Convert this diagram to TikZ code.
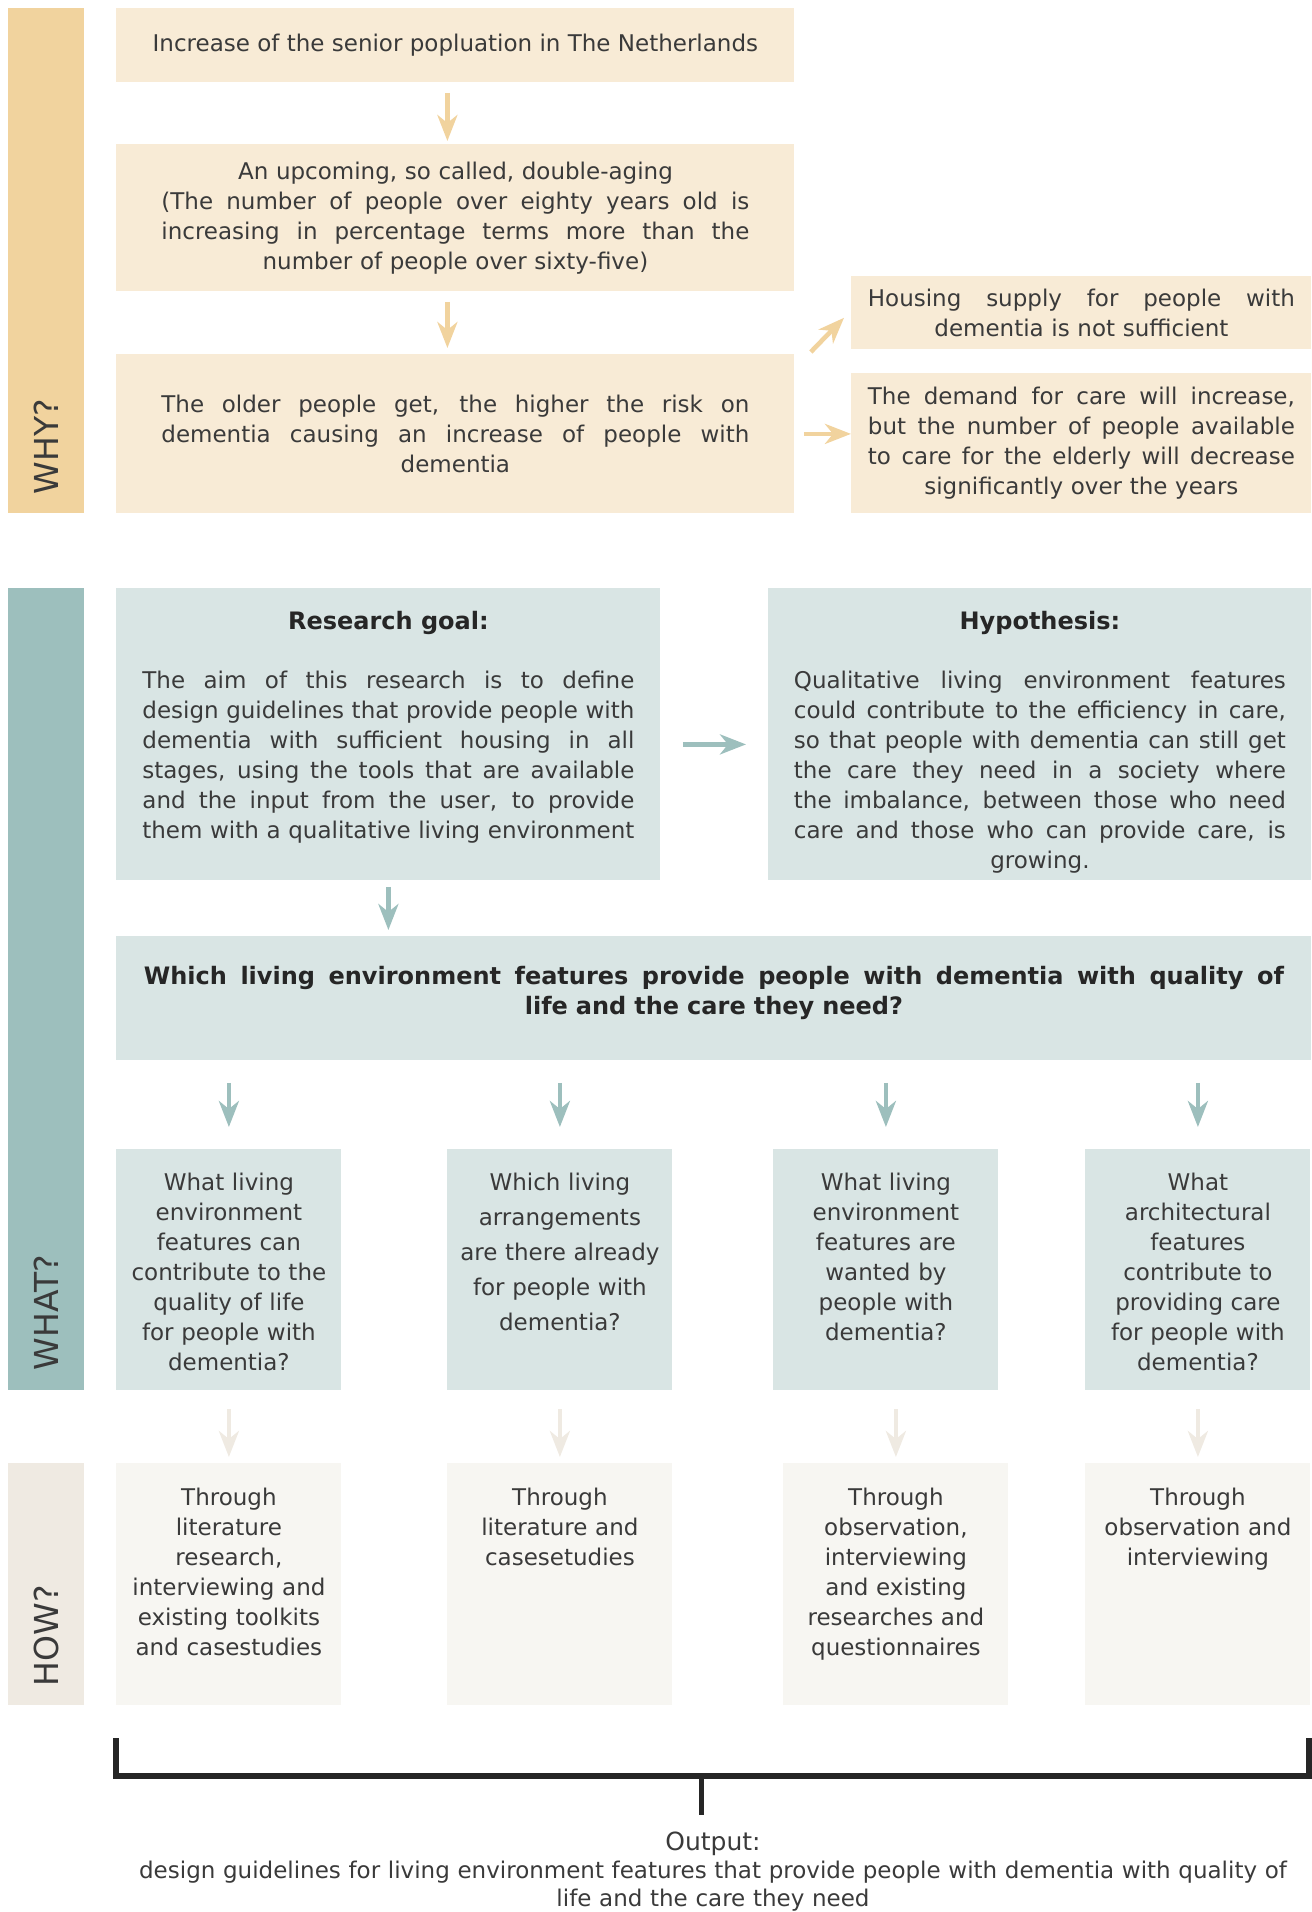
\documentclass[tikz,border=0pt]{standalone}
\usepackage{fontspec}
\setmainfont{DejaVu Sans}
\usetikzlibrary{arrows.meta}

\definecolor{ink}{HTML}{3A3A3A}
\definecolor{whydark}{HTML}{F1D39E}
\definecolor{whylight}{HTML}{F8EBD6}
\definecolor{whatdark}{HTML}{9DBFBD}
\definecolor{whatlight}{HTML}{D9E5E4}
\definecolor{howdark}{HTML}{EFEAE2}
\definecolor{howlight}{HTML}{F7F6F2}

% a justified line, spaces stretched to the full text width
\newcommand\J[1]{\makebox[\linewidth][s]{\spaceskip=\fontdimen2\font plus 1fil minus 0.1em\relax #1}}

\tikzstyle{box}=[rectangle,inner sep=0pt,anchor=north west,text=ink]
\tikzstyle{bar}=[box,minimum width=38pt]
\tikzstyle{barlabel}=[rotate=90,anchor=west,inner sep=0pt,text=ink,font=\fontsize{16.5}{20}\selectfont]
\tikzstyle{lines}=[inner sep=0pt,text=ink,align=center,font=\fontsize{11.5}{15}\selectfont]
\tikzstyle{heading}=[inner sep=0pt,text=black!85,font=\bfseries\fontsize{12}{15}\selectfont]
\tikzstyle{flow}=[line width=2.3pt,-{Stealth[length=13pt,width=10pt,inset=4pt]}]
\tikzstyle{bracketline}=[line width=2.75pt,black!85,line join=miter]

% one sub question with the way it is answered below it
\newcommand\Track[5]{
  \node[box,fill=whatlight,minimum width=112.5pt,minimum height=120.5pt] (#1q) at (#2,1149) {};
  \node[lines,text width=112.5pt,anchor=north] (#1qt) at ([yshift=-12pt]#1q.north) {#4};
  \node[box,fill=howlight,minimum width=112.5pt,minimum height=121pt] (#1h) at (#3,1463) {};
  \node[lines,text width=112.5pt,anchor=north] (#1ht) at ([yshift=-12.5pt]#1h.north) {#5};
  \draw[flow,whatdark,shorten <=11pt,shorten >=11pt] (#1q.north |- quest.south) -- (#1q.north);
  \draw[flow,howdark,shorten <=9pt,shorten >=3pt] (#1h.north |- #1q.south) -- (#1h.north);
}

\begin{document}
\begin{tikzpicture}[x=0.5pt,y=-0.5pt]
  \useasboundingbox (0,0) rectangle (1312,1912);
  % why
  \node[bar,fill=whydark,minimum height=252.5pt] (why) at (8,8) {};
  \node[barlabel] (whylabel) at ([yshift=9.5pt]why.south) {WHY?};
  \node[box,lines,fill=whylight,minimum width=339pt,minimum height=37pt] (senior) at (116,8) {Increase of the senior popluation in The Netherlands};
  \node[box,lines,fill=whylight,minimum width=339pt,minimum height=73.5pt,text width=294pt] (doubleaging) at (116,144) {An upcoming, so called, double-aging\\
    \J{(The number of people over eighty years old is}\\\J{increasing in percentage terms more than the}\\number of people over sixty-five)};
  \node[box,lines,fill=whylight,minimum width=339pt,minimum height=79.5pt,text width=294pt] (risk) at (116,354) {\J{The older people get, the higher the risk on}\\\J{dementia causing an increase of people with}\\dementia};
  \node[box,lines,fill=whylight,minimum width=230pt,minimum height=36.5pt,text width=213.5pt] (housing) at (851,276) {\J{Housing supply for people with}\\dementia is not sufficient};
  \node[box,lines,fill=whylight,minimum width=230pt,minimum height=70pt,text width=213.5pt] (demand) at (851,373) {\J{The demand for care will increase,}\\\J{but the number of people available}\\\J{to care for the elderly will decrease}\\significantly over the years};
  \draw[flow,whydark,shorten <=5pt,shorten >=1.5pt] ([xshift=-4pt]senior.south) -- ([xshift=-4pt]doubleaging.north);
  \draw[flow,whydark,shorten <=5pt,shorten >=3pt] ([xshift=-4pt]doubleaging.south) -- ([xshift=-4pt]risk.north);
  \draw[flow,whydark] ([shift={(8pt,1pt)}]risk.north east) -- ([shift={(-3.5pt,16pt)}]housing.south west);
  \draw[flow,whydark,shorten <=4.5pt] (risk.east) -- (risk.east -| demand.west);

  % what
  \node[bar,fill=whatdark,minimum height=401pt] (what) at (8,588) {};
  \node[barlabel] (whatlabel) at ([yshift=10pt]what.south) {WHAT?};
  \node[box,fill=whatlight,minimum width=272pt,minimum height=146pt] (goal) at (116,588) {};
  \node[heading,anchor=north] (goaltitle) at ([yshift=-11.5pt]goal.north) {Research goal:};
  \node[lines,text width=246pt,anchor=north] (goaltext) at ([yshift=-41.5pt]goal.north) {\J{The aim of this research is to define}\\\J{design guidelines that provide people with}\\\J{dementia with sufficient housing in all}\\\J{stages, using the tools that are available}\\\J{and the input from the user, to provide}\\\J{them with a qualitative living environment}};
  \node[box,fill=whatlight,minimum width=271.5pt,minimum height=146pt] (hypo) at (768,588) {};
  \node[heading,anchor=north] (hypotitle) at ([yshift=-11.5pt]hypo.north) {Hypothesis:};
  \node[lines,text width=246pt,anchor=north] (hypotext) at ([yshift=-41.5pt]hypo.north) {\J{Qualitative living environment features}\\\J{could contribute to the efficiency in care,}\\\J{so that people with dementia can still get}\\\J{the care they need in a society where}\\\J{the imbalance, between those who need}\\\J{care and those who can provide care, is}\\growing.};
  \node[box,fill=whatlight,minimum width=597.5pt,minimum height=62pt] (quest) at (116,936) {};
  \node[lines,font=\bfseries\fontsize{12}{15}\selectfont,text=black!85,text width=570pt,anchor=north] (questtext) at ([yshift=-15pt]quest.north) {\J{Which living environment features provide people with dementia with quality of}\\life and the care they need?};
  \draw[flow,whatdark,shorten <=11pt,shorten >=11pt] ([yshift=-5pt]goal.east) -- ([yshift=-5pt]hypo.west);
  \draw[flow,whatdark,shorten <=3pt,shorten >=3pt] (goal.south) -- (goal.south |- quest.north);

  % how
  \node[bar,fill=howdark,minimum height=121pt] (how) at (8,1463) {};
  \node[barlabel] (howlabel) at ([yshift=9.5pt]how.south) {HOW?};
  \Track{one}{116}{116}{What living\\environment\\features can\\contribute to the\\quality of life\\for people with\\dementia?}{Through\\literature\\research,\\interviewing and\\existing toolkits\\and casestudies}
  \Track{two}{447}{447}{Which living\\[2.5pt]arrangements\\[2.5pt]are there already\\[2.5pt]for people with\\[2.5pt]dementia?}{Through\\literature and\\casesetudies}
  \Track{three}{773}{783}{What living\\environment\\features are\\wanted by\\people with\\dementia?}{Through\\observation,\\interviewing\\and existing\\researches and\\questionnaires}
  \Track{four}{1085}{1085}{What\\architectural\\features\\contribute to\\providing care\\for people with\\dementia?}{Through\\observation and\\interviewing}

  % output
  \node[lines,text width=600pt,anchor=north,font=\fontsize{11.5}{14}\selectfont] (output) at (713,1832) {{\fontsize{12.5}{14}\selectfont Output:}\\design guidelines for living environment features that provide people with dementia with quality of\\life and the care they need};
  \coordinate (bracketl) at (116,1738);
  \coordinate (bracketr) at (1309,1738);
  \coordinate (bracketm) at (701.5,1776);
  \draw[bracketline] (bracketl) -- (bracketl |- bracketm) -- (bracketr |- bracketm) -- (bracketr);
  \draw[bracketline,shorten >=8.5pt] (bracketm) -- (bracketm |- output.north);
\end{tikzpicture}
\end{document}
